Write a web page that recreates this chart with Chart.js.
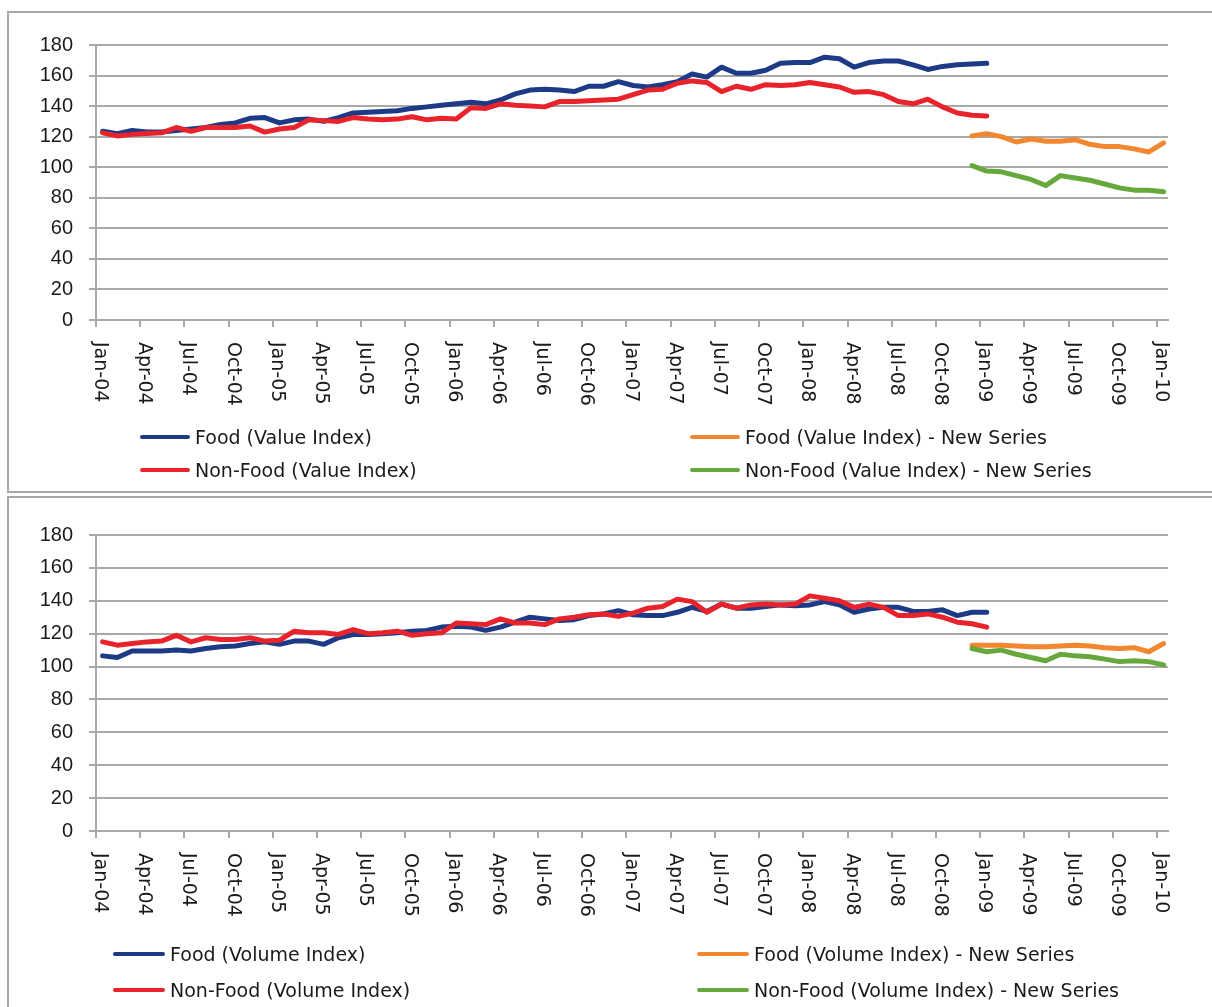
<!DOCTYPE html>
<html>
<head>
<meta charset="utf-8">
<script src="https://cdn.jsdelivr.net/npm/chart.js@4.4.1/dist/chart.umd.min.js"></script>
<style>
  html, body { margin: 0; padding: 0; background: #fff; }
  body { position: relative; width: 1212px; height: 1007px; overflow: hidden; font-family: "DejaVu Sans", sans-serif; }
  .frame { position: absolute; border: 2px solid #a7a7a7; box-sizing: border-box; }
  #frameTop { left: 7px; top: 11px; width: 1220px; height: 482px; }
  #frameBottom { left: 7px; top: 496px; width: 1220px; height: 530px; }
  .panel { position: absolute; left: 0; }
  #panelTop { top: 0; width: 1212px; height: 494px; }
  #panelBottom { top: 495px; width: 1212px; height: 512px; }
  .legend-item { position: absolute; height: 24px; line-height: 24px; font-size: 19px; color: #1a1a1a; white-space: nowrap; }
  .legend-item .swatch { position: absolute; left: 0; top: 10px; height: 4px; border-radius: 2px; }
</style>
</head>
<body>
<div class="frame" id="frameTop"></div>
<div class="frame" id="frameBottom"></div>
<div class="panel" id="panelTop"><canvas id="valueChart" width="1212" height="494"></canvas></div>
<div class="panel" id="panelBottom"><canvas id="volumeChart" width="1212" height="512"></canvas></div>
<div id="legends"></div>
<script>
// Quarterly axis labels; month index 0 = Jan-04, one label every 3 months
const quarterLabels = ['Jan-04','Apr-04','Jul-04','Oct-04','Jan-05','Apr-05','Jul-05','Oct-05',
  'Jan-06','Apr-06','Jul-06','Oct-06','Jan-07','Apr-07','Jul-07','Oct-07',
  'Jan-08','Apr-08','Jul-08','Oct-08','Jan-09','Apr-09','Jul-09','Oct-09','Jan-10'];

const OLD_SERIES_START = 0;   // Jan-04
const NEW_SERIES_START = 59;  // Dec-08
const MID_MONTH = 0.45;       // monthly readings are dated mid-month
const AXIS_END = 72.75;

// Old series: Jan-04 .. Jan-09 (monthly)
const foodValue = [123.5,122,124,123,123,124,125,126,128,129,132,132.5,
  129,131,131.5,130,132.5,135.5,136,136.5,137,138.5,139.5,140.5,
  141.5,142.5,141.5,144,148,150.5,151,150.5,149.5,153,153,156,
  153.5,152.5,154,156,161,159,165.5,161.5,161.5,163.5,168,168.5,
  168.5,172,171,165.5,168.5,169.5,169.5,167,164,166,167,167.5,168];
const nonFoodValue = [122.5,120.5,121.5,122,122.5,126,123.5,126,126,126,127,123,
  125,126,131,130.5,130,132.5,131.5,131,131.5,133,131,132,
  131.5,139,138.5,141.5,140.5,140,139.5,143,143,143.5,144,144.5,
  147.5,150.5,151,155,156.5,155.5,149.5,153,151,154,153.5,154,
  155.5,154,152.5,149,149.5,147.5,143,141.5,144.5,139.5,135.5,134,133.5];
// New series: Dec-08 .. Jan-10 (monthly)
const foodValueNew = [120.5,122,120,116.5,118.5,117,117,118,115,113.5,113.5,112,110,116];
const nonFoodValueNew = [101,97.5,97,94.5,92,88,94.5,93,91.5,89,86.5,85,85,84];

const foodVolume = [106.5,105.5,109.5,109.5,109.5,110,109.5,111,112,112.5,114,115,
  113.5,115.5,115.5,113.5,117.5,119.5,119.5,120,120.5,121.5,122,124,
  124.5,124,122,124,127,130,129,128,128.5,131,132,134,
  131.5,131,131,133,136,133.5,138,135.5,135.5,136.5,137.5,137,
  137.5,139.5,137.5,133,135,136,136,133.5,133.5,134.5,131,133,133];
const nonFoodVolume = [115,113,114,115,115.5,119,115,117.5,116.5,116.5,117.5,115.5,
  116,121.5,120.5,120.5,119.5,122.5,120,120.5,121.5,119,120,120.5,
  126.5,126,125.5,129,126.5,126.5,125.5,129,130,131.5,132,130.5,
  132.5,135.5,136.5,141,139.5,133,138,135.5,137.5,138,137.5,138,
  143,141.5,140,136,138,136,131,131,132,130,127,126,124];
const foodVolumeNew = [113,113,113,112.5,112,112,112.5,113,112.5,111.5,111,111.5,109,114];
const nonFoodVolumeNew = [111,109,110,107.5,105.5,103.5,107.5,106.5,106,104.5,103,103.5,103,101];

const COLORS = { food: '#1d3a86', nonFood: '#e8232b', foodNew: '#f2872f', nonFoodNew: '#66a83c' };
const GRID = '#a9a9a9';
const TEXT = '#1a1a1a';

function toPoints(values, start) {
  return values.map((v, i) => ({ x: start + i + MID_MONTH, y: v }));
}

function series(label, values, start, color, order) {
  return {
    label, data: toPoints(values, start), borderColor: color, backgroundColor: color,
    borderWidth: 5, pointRadius: 0, tension: 0, fill: false, order,
    borderCapStyle: 'round', borderJoinStyle: 'round'
  };
}

// Rotated quarter labels under the category axis (reading top to bottom)
const quarterTickLabels = {
  id: 'quarterTickLabels',
  afterDraw(chart) {
    const { ctx, chartArea, scales: { x } } = chart;
    ctx.save();
    ctx.font = '19px "DejaVu Sans"';
    ctx.fillStyle = TEXT;
    ctx.textAlign = 'left';
    ctx.textBaseline = 'middle';
    quarterLabels.forEach((label, k) => {
      const px = x.getPixelForValue(k * 3) + 4;
      ctx.save();
      ctx.translate(px, chartArea.bottom + 22);
      ctx.rotate(Math.PI / 2);
      ctx.fillText(label, 0, 0);
      ctx.restore();
    });
    ctx.restore();
  }
};

function makeChart(canvasId, datasets, geo) {
  return new Chart(document.getElementById(canvasId), {
    type: 'line',
    data: { datasets },
    options: {
      responsive: false,
      animation: false,
      devicePixelRatio: 1,
      layout: { padding: { left: 0, top: geo.top, right: geo.right, bottom: 0 } },
      plugins: { legend: { display: false }, tooltip: { enabled: false } },
      scales: {
        x: {
          type: 'linear', min: 0, max: AXIS_END,
          ticks: { display: false, stepSize: 3, includeBounds: false },
          grid: { drawOnChartArea: false, drawTicks: true, tickLength: 7, color: GRID, lineWidth: 2 },
          border: { display: true, color: GRID, width: 2 },
          afterFit(scale) { scale.height = geo.xAxisHeight; }
        },
        y: {
          min: 0, max: 180,
          ticks: { stepSize: 20, color: TEXT, padding: 16, font: { family: '"Liberation Sans", Arial, sans-serif', size: 20 } },
          grid: { color: GRID, lineWidth: 2, tickLength: 7, drawTicks: true },
          border: { display: true, color: GRID, width: 2 },
          afterFit(scale) { scale.width = geo.yAxisWidth; }
        }
      }
    },
    plugins: [quarterTickLabels]
  });
}

const valueChart = makeChart('valueChart', [
  series('Food (Value Index)', foodValue, OLD_SERIES_START, COLORS.food, 3),
  series('Non-Food (Value Index)', nonFoodValue, OLD_SERIES_START, COLORS.nonFood, 2),
  series('Food (Value Index) - New Series', foodValueNew, NEW_SERIES_START, COLORS.foodNew, 1),
  series('Non-Food (Value Index) - New Series', nonFoodValueNew, NEW_SERIES_START, COLORS.nonFoodNew, 0)
], { top: 45, right: 44, yAxisWidth: 96, xAxisHeight: 174 });

const volumeChart = makeChart('volumeChart', [
  series('Food (Volume Index)', foodVolume, OLD_SERIES_START, COLORS.food, 3),
  series('Non-Food (Volume Index)', nonFoodVolume, OLD_SERIES_START, COLORS.nonFood, 2),
  series('Food (Volume Index) - New Series', foodVolumeNew, NEW_SERIES_START, COLORS.foodNew, 1),
  series('Non-Food (Volume Index) - New Series', nonFoodVolumeNew, NEW_SERIES_START, COLORS.nonFoodNew, 0)
], { top: 40, right: 44, yAxisWidth: 96, xAxisHeight: 176 });

// Two-column legends built from each chart's datasets
function buildLegend(chart, layout) {
  const host = document.getElementById('legends');
  chart.data.datasets.forEach((ds, i) => {
    const col = i < 2 ? 0 : 1;
    const row = i % 2;
    const item = document.createElement('div');
    item.className = 'legend-item';
    item.style.left = layout.cols[col] + 'px';
    item.style.top = (layout.rows[row] - 12) + 'px';
    item.style.paddingLeft = (layout.swatch + 5) + 'px';
    const sw = document.createElement('span');
    sw.className = 'swatch';
    sw.style.width = layout.swatch + 'px';
    sw.style.background = ds.borderColor;
    item.appendChild(sw);
    item.appendChild(document.createTextNode(ds.label));
    host.appendChild(item);
  });
}
buildLegend(valueChart, { cols: [140, 690], rows: [437, 470], swatch: 50 });
buildLegend(volumeChart, { cols: [113, 697], rows: [954, 990], swatch: 52 });
</script>
</body>
</html>
